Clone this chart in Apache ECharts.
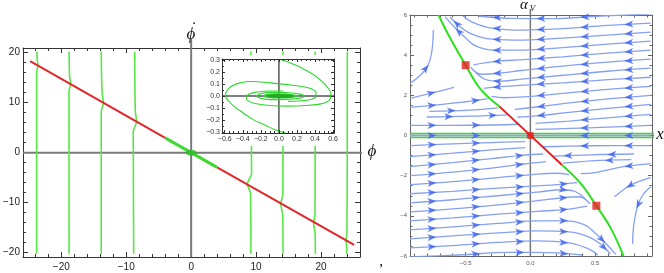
<!DOCTYPE html>
<html><head><meta charset="utf-8">
<script src="https://cdn.jsdelivr.net/npm/echarts@6/dist/echarts.min.js"></script>
<style>html,body{margin:0;padding:0;background:#fff}#c{width:664px;height:273px}</style>
</head><body><div id="c"></div>
<script>
// ================= LEFT PANEL (phi, phi-dot) =================
const leftXMajor = [-20,-10,0,10,20];
const leftXMinor = [-24,-22,-18,-16,-14,-12,-8,-6,-4,-2,2,4,6,8,12,14,16,18,22,24];
const leftYMajor = [-20,-10,0,10,20];
const leftYMinor = [-18,-16,-14,-12,-8,-6,-4,-2,2,4,6,8,12,14,16,18];
const redLineLeft  = [[-24.8,18.3],[-4,2.95]];
const greenLineMid = [[-4,2.95],[4,-2.95]];
const redLineRight = [[4,-2.95],[25.1,-18.45]];
const contourA = [[-23.75,20.2],[-23.7,18.5],[-23.6,17.4],[-23.8,16.0],[-23.8,-20.2]];
const contourB = [[-18.8,20.2],[-18.72,15.2],[-18.55,13.8],[-18.82,12.2],[-18.8,-20.2]];
const contourC = [[-13.85,20.2],[-13.72,12.0],[-13.5,10.0],[-13.85,8.2],[-13.85,-20.2]];
const contourD = [[-8.7,20.2],[-8.6,8.3],[-8.4,6.2],[-8.92,4.2],[-8.85,-20.2]];
const contourE = [[9.2,20.2],[9.3,-4.2],[8.65,-6.2],[9.15,-8.2],[9.2,-20.2]];
const contourF = [[14.15,20.2],[14.12,-8.2],[13.8,-10.3],[14.1,-12.4],[14.15,-20.2]];
const contourG = [[19.1,20.2],[19.08,-12.3],[18.85,-14.1],[19.08,-16.0],[19.13,-20.2]];
const contourH = [[24.05,20.2],[24.0,-16.0],[23.85,-17.5],[23.95,-19.0],[23.96,-20.2]];

// ================= INSET =================
const insetXMajor = [-0.6,-0.4,-0.2,0,0.2,0.4,0.6];
const insetXMinor = [-0.55,-0.5,-0.45,-0.35,-0.3,-0.25,-0.15,-0.1,-0.05,0.05,0.1,0.15,0.25,0.3,0.35,0.45,0.5,0.55];
const insetYMajor = [-0.3,-0.2,-0.1,0,0.1,0.2,0.3];
const insetYMinor = [-0.25,-0.15,-0.05,0.05,0.15,0.25];
const insetOuterA = [[0.0,0.31],[0.1,0.285],[0.2,0.255],[0.3,0.215],[0.4,0.17],[0.48,0.12],[0.54,0.07],[0.575,0.02],[0.57,-0.02],[0.53,-0.05],[0.45,-0.068],[0.3,-0.08],[0.1,-0.085],[-0.1,-0.08],[-0.25,-0.065],[-0.33,-0.045],[-0.36,-0.02],[-0.34,0.012],[-0.25,0.032],[-0.1,0.042],[0.05,0.042]];
const insetOuterB = [[0.07,-0.31],[-0.05,-0.28],[-0.15,-0.245],[-0.28,-0.2],[-0.4,-0.14],[-0.5,-0.085],[-0.56,-0.04],[-0.59,0.0],[-0.58,0.04],[-0.53,0.08],[-0.43,0.11],[-0.3,0.122],[-0.1,0.11],[0.1,0.095],[0.25,0.08],[0.36,0.06],[0.41,0.03],[0.41,0.0],[0.37,-0.025],[0.25,-0.04],[0.1,-0.045]];
const insetLoop1 = [[-0.25,0.0],[-0.2,0.02],[-0.08,0.03],[0.08,0.028],[0.2,0.02],[0.28,0.0],[0.22,-0.02],[0.08,-0.028],[-0.08,-0.03],[-0.2,-0.02],[-0.25,0.0]];
const insetLoop2 = [[-0.17,0.0],[-0.13,0.013],[-0.04,0.017],[0.08,0.016],[0.16,0.01],[0.2,0.0],[0.15,-0.011],[0.05,-0.016],[-0.06,-0.016],[-0.14,-0.01],[-0.17,0.0]];
const insetCore  = [[-0.12,0.0],[-0.06,0.006],[0.04,0.006],[0.14,0.0],[0.05,-0.006],[-0.05,-0.006],[-0.12,0.0]];

// ================= RIGHT PANEL (x, alpha_V) =================
const rightXMajor = [-0.5,0,0.5];
const rightXMinor = [-0.9,-0.8,-0.7,-0.6,-0.4,-0.3,-0.2,-0.1,0.1,0.2,0.3,0.4,0.6,0.7,0.8,0.9];
const rightYMajor = [-6,-4,-2,0,2,4,6];
const rightYMinor = [-5.5,-5,-4.5,-3.5,-3,-2.5,-1.5,-1,-0.5,0.5,1,1.5,2.5,3,3.5,4.5,5,5.5];
const manifoldUpper = [[-0.71,6],[-0.62,4.85],[-0.5,3.5],[-0.39,2.35],[-0.24,1.45]];
const manifoldRed   = [[-0.24,1.45],[0.245,-1.47]];
const manifoldLower = [[0.245,-1.47],[0.39,-2.4],[0.51,-3.5],[0.62,-4.6],[0.72,-6]];
const fixedPoints = [[-0.5,3.5],[0.51,-3.5]];
const originPoint = [[0,0]];
const streams = [
  [[0.93,6.05],[0.55,5.95],[0.18,5.82],[-0.15,5.83],[-0.4,5.95]],
  [[0.93,5.6],[0.6,5.48],[0.25,5.32],[-0.05,5.25],[-0.3,5.35],[-0.45,5.65],[-0.52,5.95]],
  [[0.93,5.15],[0.6,5.0],[0.25,4.85],[-0.05,4.75],[-0.3,4.8],[-0.45,5.05],[-0.55,5.45],[-0.62,5.9]],
  [[0.93,4.7],[0.6,4.55],[0.25,4.38],[-0.05,4.25],[-0.28,4.25],[-0.42,4.45],[-0.5,4.85],[-0.58,5.35],[-0.66,5.92]],
  [[0.93,4.25],[0.6,4.1],[0.25,3.92],[-0.05,3.78],[-0.28,3.68],[-0.44,3.52]],
  [[0.93,3.8],[0.6,3.65],[0.25,3.45],[-0.05,3.25],[-0.25,3.1],[-0.38,3.05],[-0.46,3.4]],
  [[0.93,3.35],[0.6,3.2],[0.25,3.0],[-0.05,2.82],[-0.25,2.7],[-0.35,2.8],[-0.43,3.2]],
  [[0.93,2.9],[0.6,2.78],[0.25,2.62],[-0.08,2.5],[-0.25,2.42],[-0.36,2.35]],
  [[0.93,2.45],[0.6,2.3],[0.25,2.1],[-0.05,1.92],[-0.2,1.88],[-0.3,1.95]],
  [[0.93,2.0],[0.6,1.82],[0.3,1.62],[0.05,1.42],[-0.12,1.3]],
  [[0.93,1.55],[0.6,1.35],[0.3,1.15],[0.05,0.98],[-0.1,0.92]],
  [[0.93,1.05],[0.6,0.88],[0.3,0.72],[0.04,0.6]],
  [[0.93,0.5],[0.6,0.42],[0.3,0.35],[0.04,0.3]],
  [[-0.93,2.6],[-0.85,3.0],[-0.79,3.5],[-0.76,4.25],[-0.75,5.25]],
  [[-0.93,1.85],[-0.72,2.18],[-0.59,2.4]],
  [[-0.93,1.4],[-0.72,1.52],[-0.5,1.68],[-0.33,1.82]],
  [[-0.78,1.2],[-0.47,1.26],[-0.25,1.38]],
  [[-0.8,0.92],[-0.47,0.96],[-0.18,1.03]],
  [[-0.93,0.5],[-0.47,0.51],[-0.09,0.56]],
  [[-0.93,0.0],[-0.45,0.0],[-0.02,0.0]],
  [[-0.93,-6.05],[-0.55,-5.95],[-0.18,-5.82],[0.15,-5.83],[0.4,-5.95]],
  [[-0.93,-5.6],[-0.6,-5.48],[-0.25,-5.32],[0.05,-5.25],[0.3,-5.35],[0.45,-5.65],[0.52,-5.95]],
  [[-0.93,-5.15],[-0.6,-5.0],[-0.25,-4.85],[0.05,-4.75],[0.3,-4.8],[0.45,-5.05],[0.55,-5.45],[0.62,-5.9]],
  [[-0.93,-4.7],[-0.6,-4.55],[-0.25,-4.38],[0.05,-4.25],[0.28,-4.25],[0.42,-4.45],[0.5,-4.85],[0.58,-5.35],[0.66,-5.92]],
  [[-0.93,-4.25],[-0.6,-4.1],[-0.25,-3.92],[0.05,-3.78],[0.28,-3.68],[0.44,-3.52]],
  [[-0.93,-3.8],[-0.6,-3.65],[-0.25,-3.45],[0.05,-3.25],[0.25,-3.1],[0.38,-3.05],[0.46,-3.4]],
  [[-0.93,-3.35],[-0.6,-3.2],[-0.25,-3.0],[0.05,-2.82],[0.25,-2.7],[0.35,-2.8],[0.43,-3.2]],
  [[-0.93,-2.9],[-0.6,-2.78],[-0.25,-2.62],[0.08,-2.5],[0.25,-2.42],[0.36,-2.35]],
  [[-0.93,-2.45],[-0.6,-2.3],[-0.25,-2.1],[0.05,-1.92],[0.2,-1.88],[0.3,-1.95]],
  [[-0.93,-2.0],[-0.6,-1.82],[-0.3,-1.62],[-0.05,-1.42],[0.12,-1.3]],
  [[-0.93,-1.55],[-0.6,-1.35],[-0.3,-1.15],[-0.05,-0.98],[0.1,-0.92]],
  [[-0.93,-1.05],[-0.6,-0.88],[-0.3,-0.72],[-0.04,-0.6]],
  [[-0.93,-0.5],[-0.6,-0.42],[-0.3,-0.35],[-0.04,-0.3]],
  [[0.93,-2.55],[0.87,-2.95],[0.83,-3.5],[0.8,-4.4],[0.79,-5.4]],
  [[0.93,-2.1],[0.78,-2.45],[0.72,-2.7],[0.65,-3.05]],
  [[0.93,-1.4],[0.72,-1.55],[0.5,-1.85],[0.39,-1.9]],
  [[0.78,-1.2],[0.47,-1.26],[0.25,-1.38]],
  [[0.8,-0.92],[0.47,-0.96],[0.18,-1.03]],
  [[0.93,-0.5],[0.47,-0.51],[0.09,-0.56]],
  [[0.93,0.0],[0.45,0.0],[0.02,0.0]]
];

// ================= BUILD =================
const MINUS = '\u2212';
const fmtInt = v => (v < 0 ? MINUS : '') + Math.abs(v);
const fmt1 = v => (v < -1e-9 ? MINUS : '') + Math.abs(v).toFixed(1);

function frame(kind, gi, min, max, majors, minors, o) {
  const posA = kind === 'x' ? 'bottom' : 'left', posB = kind === 'x' ? 'top' : 'right';
  const mk = (pos, vals, len, lineShow, labelShow) => ({
    type: 'value', gridIndex: gi, min: min, max: max, position: pos, z: o.z || 0,
    splitLine: {show: false},
    axisLine: {show: lineShow, onZero: false, lineStyle: {color: o.color, width: 1}},
    axisTick: {show: true, inside: true, length: len, customValues: vals, lineStyle: {color: o.color, width: 1}},
    axisLabel: labelShow ? Object.assign({show: true, customValues: vals}, o.label) : {show: false}
  });
  return [mk(posA, majors, o.majorLen, true, !!o.label), mk(posA, minors, o.minorLen, false, false),
          mk(posB, majors, o.majorLen, true, false), mk(posB, minors, o.minorLen, false, false)];
}

const xAxes = [].concat(
  frame('x', 0, -25.9, 26, leftXMajor, leftXMinor, {color: '#333', majorLen: 5, minorLen: 3,
    label: {formatter: fmtInt, fontFamily: 'Liberation Sans', fontSize: 10, color: '#222', margin: 5}}),
  frame('x', 1, -0.63, 0.61, insetXMajor, insetXMinor, {color: '#333', majorLen: 3, minorLen: 2, z: 30,
    label: {formatter: fmt1, fontFamily: 'Liberation Sans', fontSize: 7, color: '#333', margin: 3}}),
  frame('x', 2, -0.93, 0.94, rightXMajor, rightXMinor, {color: '#666', majorLen: 4, minorLen: 2.5,
    label: {formatter: fmt1, fontFamily: 'Liberation Sans', fontSize: 6, color: '#555', margin: 4}})
);
const yAxes = [].concat(
  frame('y', 0, -20.85, 20.9, leftYMajor, leftYMinor, {color: '#333', majorLen: 5, minorLen: 3,
    label: {formatter: fmtInt, fontFamily: 'Liberation Sans', fontSize: 10, color: '#222', margin: 3}}),
  frame('y', 1, -0.31, 0.31, insetYMajor, insetYMinor, {color: '#333', majorLen: 3, minorLen: 2, z: 30,
    label: {formatter: fmt1, fontFamily: 'Liberation Sans', fontSize: 7, color: '#333', margin: 2}}),
  frame('y', 2, -6, 6, rightYMajor, rightYMinor, {color: '#666', majorLen: 4, minorLen: 2.5,
    label: {formatter: fmtInt, fontFamily: 'Liberation Sans', fontSize: 6, color: '#555', margin: 3}})
);

function ln(gi, data, color, width, z, extra) {
  return Object.assign({type: 'line', xAxisIndex: gi * 4, yAxisIndex: gi * 4, data: data, symbol: 'none',
    lineStyle: {color: color, width: width}, itemStyle: {color: color}, z: z, silent: true, animation: false}, extra || {});
}

const GL = '#57e845';
const series = [
  ln(0, [[0, -20.85], [0, 22.7]], '#7a7a7a', 2, 1, {clip: false}),
  ln(0, [[-25.9, 0], [26.8, 0]], '#7a7a7a', 2, 1, {clip: false}),
  ...[contourA, contourB, contourC, contourD, contourE, contourF, contourG, contourH].map(c => ln(0, c, GL, 1.6, 2, {smooth: 0.25})),
  ln(0, redLineLeft, '#e3262a', 2, 3),
  ln(0, redLineRight, '#e3262a', 2, 3),
  ln(0, greenLineMid, '#3fd92f', 3, 3),
  {type: 'scatter', xAxisIndex: 0, yAxisIndex: 0, data: originPoint, symbol: 'circle', symbolSize: [11, 6],
    itemStyle: {color: '#2fb82a'}, z: 4, silent: true, animation: false},
  // inset
  ln(1, [[0, -0.31], [0, 0.31]], '#555', 1.5, 20),
  ln(1, [[-0.63, 0], [0.61, 0]], '#555', 1.5, 20),
  ln(1, insetOuterA, '#2ed62e', 1.1, 21, {smooth: 0.4}),
  ln(1, insetOuterB, '#2ed62e', 1.1, 21, {smooth: 0.4}),
  ln(1, insetLoop1, '#2ed62e', 1.1, 21, {smooth: 0.5}),
  ln(1, insetLoop2, '#2ed62e', 1.2, 21, {smooth: 0.5}),
  ln(1, insetCore, '#22aa22', 2.5, 21, {smooth: 0.5}),
  // right
  ln(2, [[0, -6], [0, 6.3]], '#777', 1.5, 1, {clip: false}),
  ln(2, [[-0.93, 0], [0.97, 0]], '#777', 1.5, 1, {clip: false}),
  ln(2, [[-0.93, 0.1], [0.97, 0.1]], '#33e02a', 1.6, 2, {clip: false}),
  ln(2, [[-0.93, -0.1], [0.97, -0.1]], '#33e02a', 1.6, 2, {clip: false}),
  ...streams.map(s => ln(2, s, '#86a0f2', 1.3, 3, {smooth: 0.4})),
  ln(2, manifoldUpper, '#2ee01f', 2, 5, {smooth: 0.4}),
  ln(2, manifoldLower, '#2ee01f', 2, 5, {smooth: 0.4}),
  ln(2, manifoldRed, '#e52020', 2, 5),
  {type: 'scatter', xAxisIndex: 8, yAxisIndex: 8, data: fixedPoints, symbol: 'rect', symbolSize: 8,
    itemStyle: {color: '#e52020'}, z: 7, silent: true, animation: false},
  {type: 'scatter', xAxisIndex: 8, yAxisIndex: 8, data: originPoint, symbol: 'roundRect', symbolSize: 7,
    itemStyle: {color: '#e52020'}, z: 7, silent: true, animation: false}
];

const serifIt = 'italic 17px "Liberation Serif", "DejaVu Serif", serif';
const option = {
  animation: false,
  backgroundColor: '#fff',
  grid: [
    {left: 20, top: 48, width: 340, height: 209},
    {left: 222, top: 59, width: 112, height: 74},
    {left: 410, top: 15, width: 242, height: 241}
  ],
  xAxis: xAxes,
  yAxis: yAxes,
  series: series,
  graphic: [
    {type: 'rect', shape: {x: 205, y: 55, width: 138, height: 91}, style: {fill: '#fff'}, z: 10, silent: true},
    {type: 'text', x: 191, y: 35, style: {text: '\u03d5', font: serifIt, fill: '#111', align: 'center', verticalAlign: 'middle'}, z: 40},
    {type: 'text', x: 193, y: 29, style: {text: '\u02d9', font: 'italic 17px "Liberation Serif", serif', fill: '#111', align: 'center', verticalAlign: 'middle'}, z: 40},
    {type: 'text', x: 372, y: 152, style: {text: '\u03d5', font: serifIt, fill: '#111', align: 'center', verticalAlign: 'middle'}, z: 40},
    {type: 'text', x: 524, y: 5, style: {text: '\u03b1', font: 'italic 15px "Liberation Serif", serif', fill: '#111', align: 'center', verticalAlign: 'middle'}, z: 40},
    {type: 'text', x: 532.5, y: 9, style: {text: 'V', font: 'italic 9px "Liberation Serif", serif', fill: '#111', align: 'center', verticalAlign: 'middle'}, z: 40},
    {type: 'text', x: 660, y: 135, style: {text: 'x', font: 'italic 17px "Liberation Serif", serif', fill: '#111', align: 'center', verticalAlign: 'middle'}, z: 40},
    {type: 'text', x: 381, y: 262, style: {text: ',', font: '15px "Liberation Serif", serif', fill: '#111', align: 'center', verticalAlign: 'middle'}, z: 40}
  ]
};

const chart = echarts.init(document.getElementById('c'), null, {renderer: 'canvas'});
chart.setOption(option);

// arrow heads along streamlines, positioned through the chart's own scales
const finder = {xAxisIndex: 8, yAxisIndex: 8};
const arrowData = [];
const spacing = 44;
streams.forEach(s => {
  const px = s.map(p => chart.convertToPixel(finder, p));
  const segs = [];
  let total = 0;
  for (let i = 0; i < px.length - 1; i++) {
    const dx = px[i + 1][0] - px[i][0], dy = px[i + 1][1] - px[i][1];
    const L = Math.hypot(dx, dy);
    segs.push({a: px[i], dx: dx, dy: dy, L: L, s0: total});
    total += L;
  }
  const stops = [];
  if (total < 40) stops.push(total * 0.55);
  else for (let d = spacing * 0.5; d < total - 8; d += spacing) stops.push(d);
  stops.forEach(d => {
    const sg = segs.find(g => d >= g.s0 && d <= g.s0 + g.L) || segs[segs.length - 1];
    const t = (d - sg.s0) / sg.L;
    const p = [sg.a[0] + sg.dx * t, sg.a[1] + sg.dy * t];
    const ang = Math.atan2(-sg.dy, sg.dx) * 180 / Math.PI;
    arrowData.push({value: chart.convertFromPixel(finder, p), symbolRotate: ang});
  });
});
option.series.push({type: 'scatter', xAxisIndex: 8, yAxisIndex: 8, data: arrowData,
  symbol: 'path://M0,0L12,5L0,10L3,5Z', symbolSize: [9, 7], itemStyle: {color: '#3d63ee'}, z: 4, silent: true, animation: false});
chart.setOption(option);
</script>
</body></html>
